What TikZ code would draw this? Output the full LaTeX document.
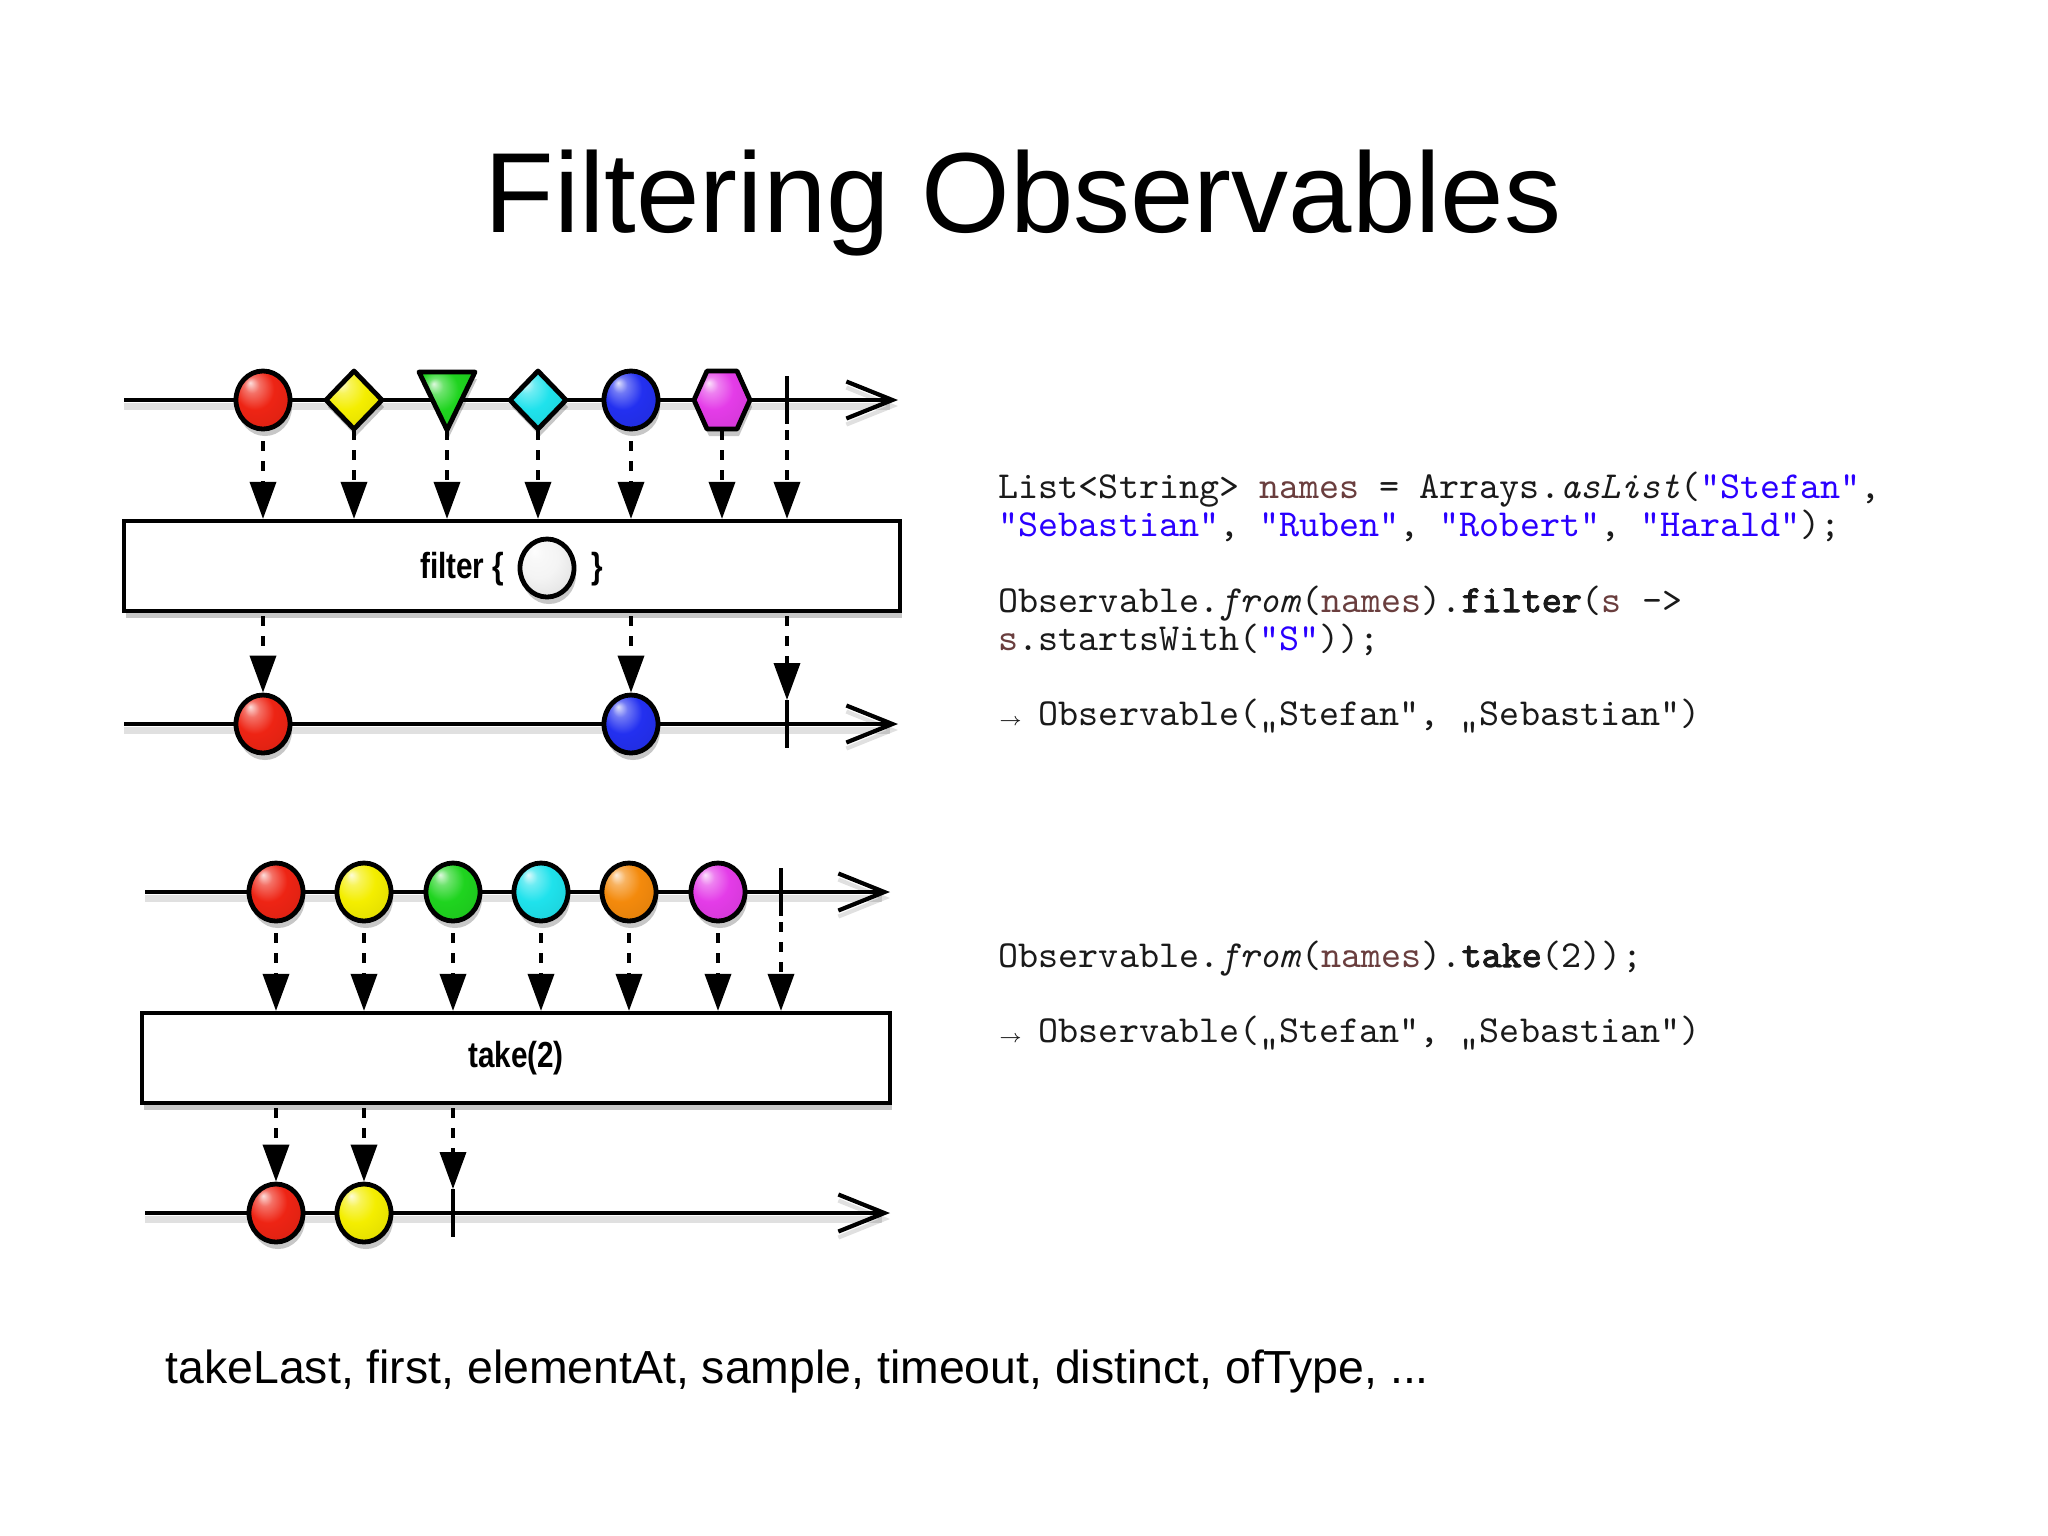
\documentclass[tikz,border=0pt]{standalone}
\usepackage{fontspec}
\setmainfont{Liberation Sans}
\newfontfamily\labelfont[FakeStretch=0.82]{Liberation Sans}
\newfontfamily\codebold[FakeBold=2.5]{Latin Modern Mono}
\usetikzlibrary{arrows.meta,shadows,shapes.geometric,backgrounds}
\definecolor{strc}{HTML}{2A00FF}
\definecolor{varc}{HTML}{6A3E3E}
\definecolor{codec}{HTML}{1A1A1A}
\definecolor{mred}{HTML}{EE2414}
\definecolor{myellow}{HTML}{F4EE00}
\definecolor{mgreen}{HTML}{1FD41F}
\definecolor{mcyan}{HTML}{1FE2EC}
\definecolor{mblue}{HTML}{2330F0}
\definecolor{morange}{HTML}{F48A0C}
\definecolor{mmag}{HTML}{E43CE8}
\definecolor{mwhite}{HTML}{F4F4F4}
\colorlet{mc}{red}
\pgfdeclareradialshading[mc]{marble}{\pgfqpoint{-12bp}{15bp}}{%
  color(0bp)=(mc!15!white); color(7bp)=(mc!65!white); color(18bp)=(mc);
  color(35bp)=(mc!92!black); color(50bp)=(mc!72!black)}
\newcommand{\rarr}{\makebox[0.525em][l]{$\scriptscriptstyle\rightarrow$}}
\newcommand{\kw}[1]{{\codebold #1}}
\tikzset{
  shadowed/.style={drop shadow={shadow xshift=0.02cm, shadow yshift=-0.07cm, opacity=0.22, fill=black}},
  lshadow/.style={preaction={draw=black, opacity=0.12, line width=0.07cm, transform canvas={yshift=-0.06cm}}},
  mball/.style={/utils/exec={\colorlet{mc}{#1}}, shade, shading=marble},
  axisln/.style={line width=0.042cm, lshadow, -{Straight Barb[length=0.46cm,width=0.37cm,line width=0.042cm]}},
  tickln/.style={line width=0.042cm},
  flowarr/.style={line width=0.036cm, dash pattern=on 0.1cm off 0.1cm, dash phase=0.1cm, -{Triangle[length=0.37cm,width=0.26cm]}},
  marble/.style={ellipse, draw, line width=0.048cm, minimum width=0.54cm, minimum height=0.58cm, inner sep=0pt, shadowed},
  shp/.style={draw, line width=0.048cm, line join=round, shadowed},
  opbox/.style={draw, fill=white, line width=0.042cm, inner sep=0pt, shadowed},
  oplabel/.style={font=\labelfont\bfseries\fontsize{10.3pt}{12pt}\selectfont, inner sep=0pt},
  code/.style={font=\ttfamily\fontsize{10.86pt}{12pt}\selectfont, text=codec, inner sep=0pt, anchor=base west},
}
\begin{document}
\begin{tikzpicture}[x=0.01cm, y=-0.01cm]
\useasboundingbox (0,0) rectangle (2048,1535);
\begin{pgfonlayer}{background}
  \fill[white] (0,0) rectangle (2048,1535);
\end{pgfonlayer}

% title
\node[font=\fontsize{32.4pt}{36pt}\selectfont, inner sep=0pt, anchor=base] (title) at (1023,232) {Filtering Observables};

% ---------- filter diagram ----------
\draw[axisln] (124,400) -- (898,400);
\node[marble, mball=mred] (p1) at (263,400) {};
\path[shp, mball=myellow] (354,371) -- (382,400) -- (354,429) -- (326,400) -- cycle;
\coordinate (p2) at (354,400);
\path[shp, mball=mgreen] (419,372) -- (475,372) -- (447,430) -- cycle;
\coordinate (p3) at (447,400);
\path[shp, mball=mcyan] (538,371) -- (566,400) -- (538,429) -- (510,400) -- cycle;
\coordinate (p4) at (538,400);
\node[marble, mball=mblue] (p5) at (631,400) {};
\path[shp, mball=mmag] (707,371) -- (737,371) -- (750,400) -- (737,429) -- (707,429) -- (694,400) -- cycle;
\coordinate (p6) at (722,400);
\draw[tickln] (787,376) -- (787,424);
\coordinate (p7) at (787,400);

\node[opbox, minimum width=7.76cm, minimum height=0.90cm] (f) at (512,566) {};
\node[oplabel, anchor=base east] (flab) at (505,578) {filter \{};
\node[marble, mball=mwhite, drop shadow={opacity=0}] (fm) at (547,568) {};
\node[oplabel, anchor=base west] (frab) at (591,578) {\}};

\draw[axisln] (124,724) -- (898,724);
\node[marble, mball=mred] (q1) at (263,724) {};
\node[marble, mball=mblue] (q2) at (631,724) {};
\draw[tickln] (787,700) -- (787,748);
\coordinate (qt) at (787,700);

\begin{pgfonlayer}{background}
  \foreach \p in {p1,p2,p3,p4,p5,p6,p7} \draw[flowarr] (\p) -- (\p |- f.north);
  \draw[flowarr] (f.center -| q1) -- (q1.north);
  \draw[flowarr] (f.center -| q2) -- (q2.north);
  \draw[flowarr] (f.center -| qt) -- (qt);
\end{pgfonlayer}

% ---------- take diagram ----------
\draw[axisln] (145,892) -- (890,892);
\node[marble, mball=mred] (r1) at (276,892) {};
\node[marble, mball=myellow] (r2) at (364,892) {};
\node[marble, mball=mgreen] (r3) at (453,892) {};
\node[marble, mball=mcyan] (r4) at (541,892) {};
\node[marble, mball=morange] (r5) at (629,892) {};
\node[marble, mball=mmag] (r6) at (718,892) {};
\draw[tickln] (781,868) -- (781,916);
\coordinate (r7) at (781,892);

\node[opbox, minimum width=7.48cm, minimum height=0.90cm] (t) at (516,1058) {};
\node[oplabel] (tlab) at (516,1058) {take(2)};

\draw[axisln] (145,1213) -- (890,1213);
\node[marble, mball=mred] (s1) at (276,1213) {};
\node[marble, mball=myellow] (s2) at (364,1213) {};
\draw[tickln] (453,1189) -- (453,1237);
\coordinate (st) at (453,1189);

\begin{pgfonlayer}{background}
  \foreach \p in {r1,r2,r3,r4,r5,r6,r7} \draw[flowarr] (\p) -- (\p |- t.north);
  \draw[flowarr] (t.center -| s1) -- (s1.north);
  \draw[flowarr] (t.center -| s2) -- (s2.north);
  \draw[flowarr] (t.center -| st) -- (st);
\end{pgfonlayer}

% ---------- code ----------
\node[code] (c1) at (998,498) {List<String> \textcolor{varc}{names} = Arrays.\textit{asList}(\textcolor{strc}{"Stefan"},};
\node[code] (c2) at (998,536) {\textcolor{strc}{"Sebastian"}, \textcolor{strc}{"Ruben"}, \textcolor{strc}{"Robert"}, \textcolor{strc}{"Harald"});};
\node[code] (c3) at (998,612) {Observable.\textit{from}(\textcolor{varc}{names}).\kw{filter}(\textcolor{varc}{s} ->};
\node[code] (c4) at (998,650) {\textcolor{varc}{s}.startsWith(\textcolor{strc}{"S"}));};
\node[code] (c5) at (998,725) {\rarr{} Observable(„Stefan“, „Sebastian“)};
\node[code] (c6) at (998,967) {Observable.\textit{from}(\textcolor{varc}{names}).\kw{take}(2));};
\node[code] (c7) at (998,1042) {\rarr{} Observable(„Stefan“, „Sebastian“)};

% ---------- footer ----------
\node[font=\fontsize{13.19pt}{15pt}\selectfont, inner sep=0pt, anchor=base west] (foot) at (165,1383) {takeLast, first, elementAt, sample, timeout, distinct, ofType, ...};
\end{tikzpicture}
\end{document}
